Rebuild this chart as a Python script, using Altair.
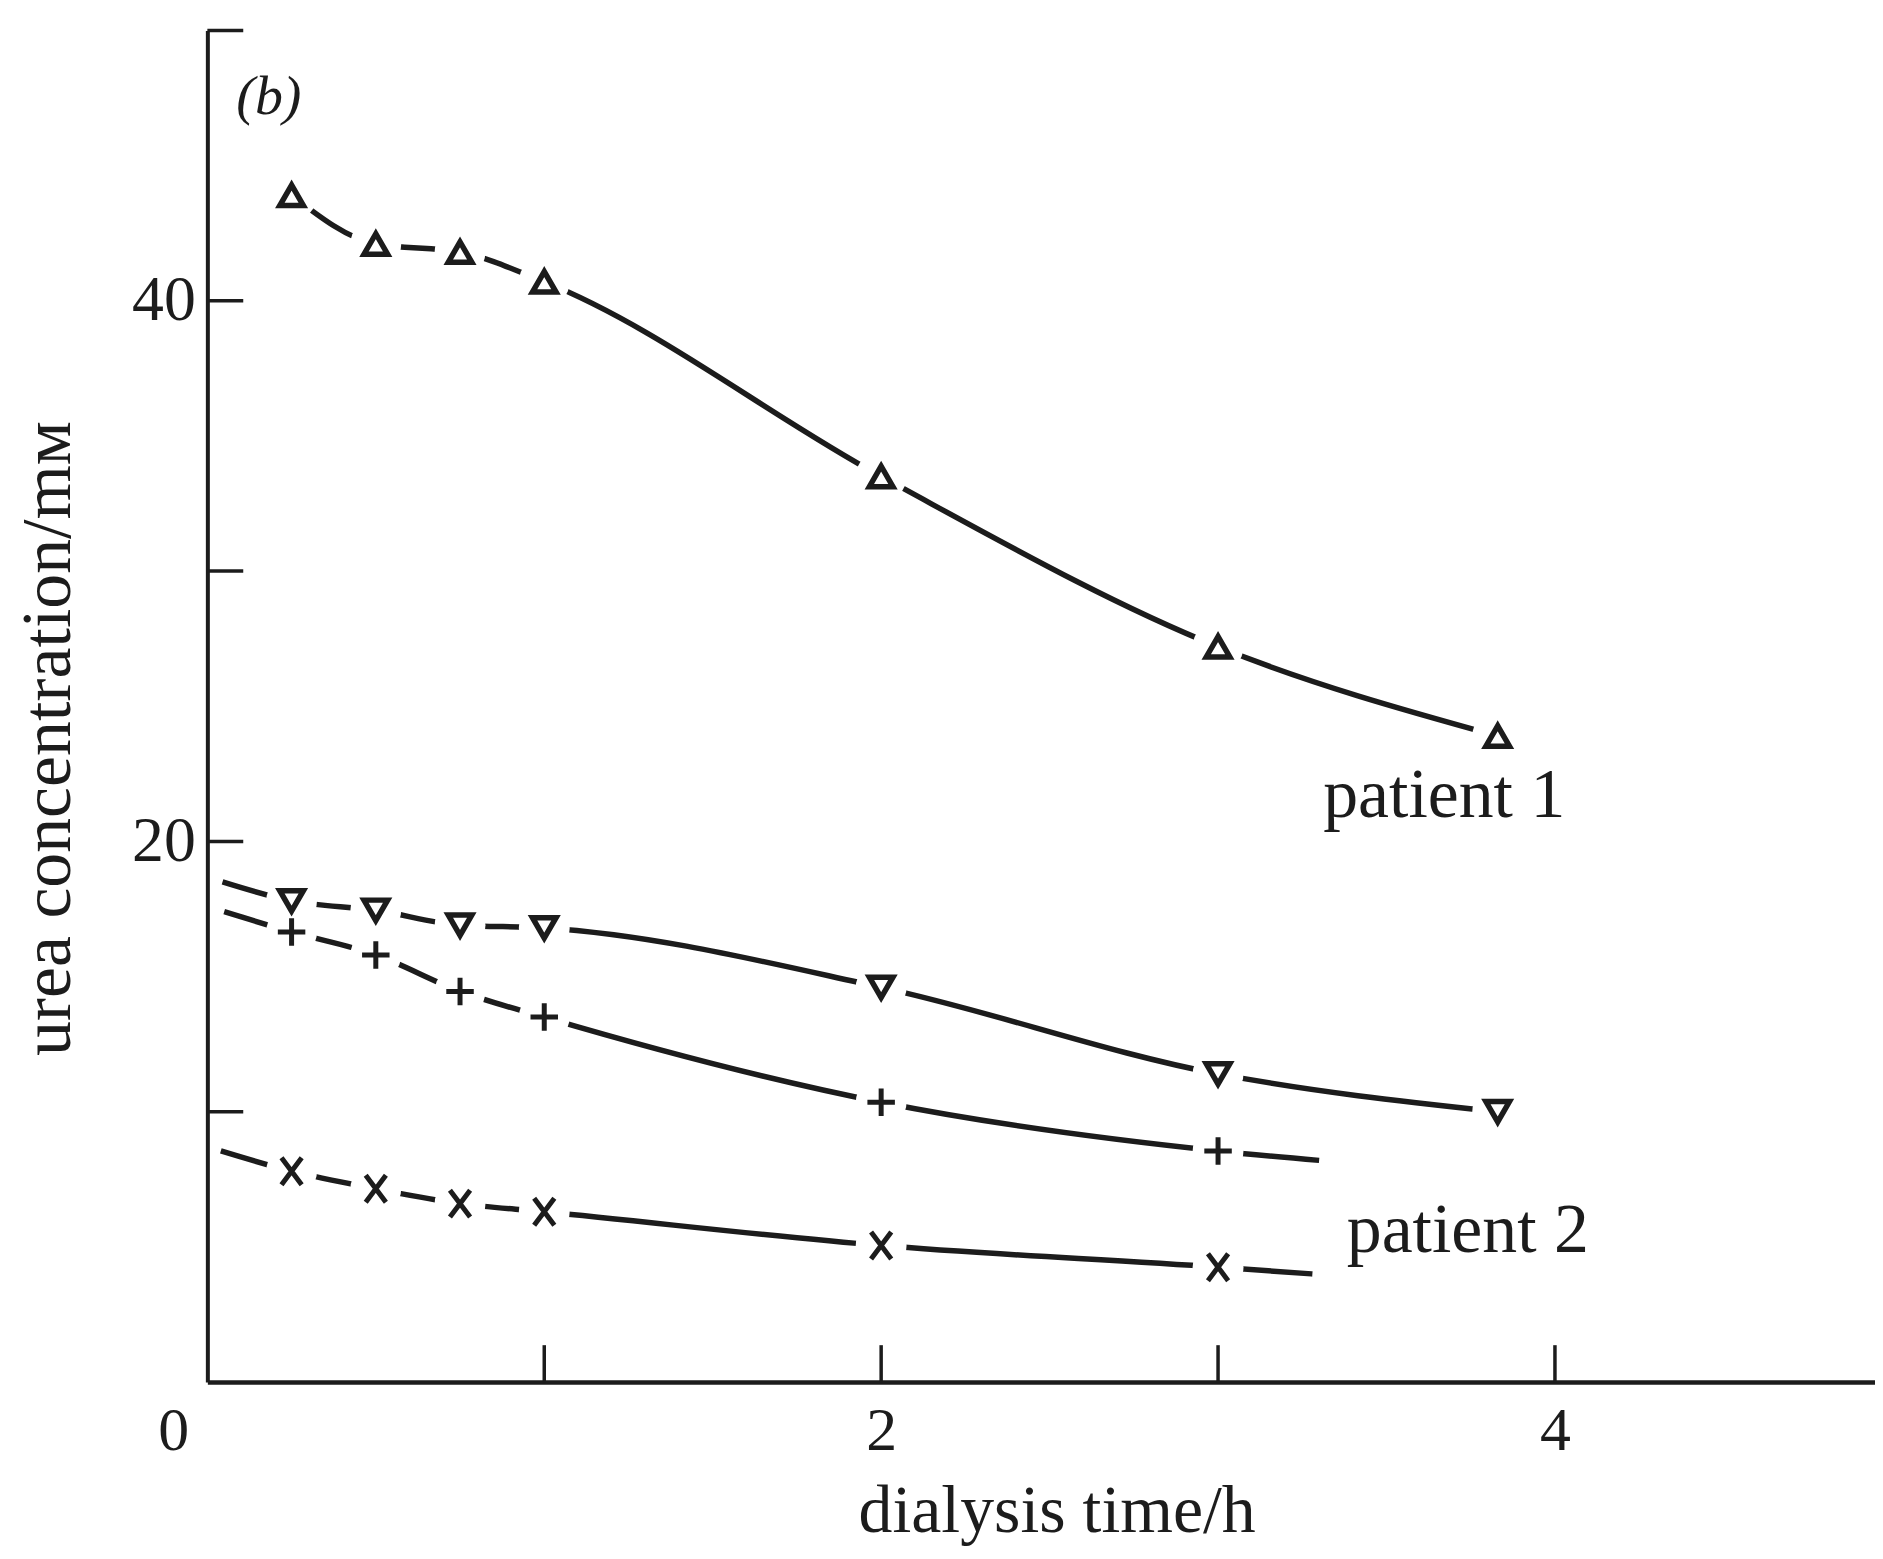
import altair as alt
import pandas as pd

FONT = "Liberation Serif"
INK = "#1c1c1c"

# ---------------- data ----------------
times_p1 = [0.25, 0.5, 0.75, 1.0, 2.0, 3.0, 3.83]
times_p2 = [0.25, 0.5, 0.75, 1.0, 2.0, 3.0]

p1_up = [43.9, 42.1, 41.8, 40.7, 33.5, 27.2, 23.9]      # open triangles (up)
p1_down = [17.8, 17.45, 16.9, 16.8, 14.6, 11.4, 10.0]    # open triangles (down)
p2_plus = [16.65, 15.8, 14.45, 13.5, 10.35, 8.55]        # plus signs
p2_cross = [7.8, 7.15, 6.6, 6.3, 5.05, 4.25]             # crosses

# where the drawn curves begin / end beyond the plotted points
p1_down_start = (0.045, 18.5)
p2_plus_start = (0.05, 17.4)
p2_plus_end = (3.3, 8.2)
p2_cross_start = (0.04, 8.55)
p2_cross_end = (3.28, 4.0)

x_tick_values = [1, 2, 3, 4]
x_label_values = [2, 4]
y_tick_values = [10, 20, 30, 40, 50]
y_label_values = [20, 40]

# ---------------- tables ----------------
pts = []
for name, ts, vs in [("up", times_p1, p1_up), ("down", times_p1, p1_down),
                     ("plus", times_p2, p2_plus), ("cross", times_p2, p2_cross)]:
    for t, v in zip(ts, vs):
        pts.append(dict(series=name, t=t, v=v))
pts = pd.DataFrame(pts)

extra = []
for name, pair in [("down", p1_down_start), ("plus", p2_plus_start), ("plus", p2_plus_end),
                   ("cross", p2_cross_start), ("cross", p2_cross_end)]:
    extra.append(dict(series=name, t=pair[0], v=pair[1]))
curves = pd.concat([pts, pd.DataFrame(extra)], ignore_index=True).sort_values(["series", "t"])

xt = pd.DataFrame({"t": x_tick_values})
yt = pd.DataFrame({"v": y_tick_values})

notes = pd.DataFrame([
    dict(t=3.312, v=20.91, label="patient 1"),
    dict(t=3.382, v=4.82, label="patient 2"),
])
panel = pd.DataFrame([dict(t=0.086, v=46.9, label="(b)")])
origin = pd.DataFrame([dict(t=-0.1, v=0.0, label="0")])

# ---------------- chart ----------------
W, H = 1673, 1356
xs = alt.Scale(domain=[0, 4.95], nice=False, zero=False)
ys = alt.Scale(domain=[0, 50], nice=False, zero=False)

xaxis = alt.Axis(values=x_label_values, format="d", ticks=False, tickSize=0, grid=False,
                 domainColor=INK, domainWidth=4.5,
                 labelFont=FONT, labelFontSize=62, labelColor=INK, labelPadding=68,
                 labelBaseline="alphabetic", labelFlush=False, labelOverlap=False,
                 title="dialysis time/h", titleFont=FONT, titleFontSize=68,
                 titleFontWeight="normal", titleColor=INK, titleX=852, titleY=150,
                 titleBaseline="alphabetic", titleAlign="center", titleAnchor="start")
yaxis = alt.Axis(values=y_label_values, format="d", ticks=False, tickSize=0, grid=False,
                 domainColor=INK, domainWidth=4,
                 labelFont=FONT, labelFontSize=64, labelColor=INK, labelPadding=12,
                 labelBaseline="middle", labelFlush=False, labelOverlap=False,
                 title="urea concentration/mᴍ", titleFont=FONT, titleFontSize=70,
                 titleFontWeight="normal", titleColor=INK, titleX=-138, titleY=710,
                 titleAngle=270, titleBaseline="alphabetic", titleAlign="center",
                 titleAnchor="start")

X = alt.X("t:Q", scale=xs, axis=xaxis)
Y = alt.Y("v:Q", scale=ys, axis=yaxis)

lines = alt.Chart(curves).mark_line(interpolate="monotone", strokeWidth=5.5, color=INK,
                                    strokeCap="butt").encode(x=X, y=Y, detail="series:N")

gaps = alt.Chart(pts).mark_point(shape="circle", filled=True, color="white", opacity=1,
                                 size=2600, strokeWidth=0).encode(x=X, y=Y)

def markers(name, shape, size, sw=5.0):
    return alt.Chart(pts).transform_filter(alt.datum.series == name).mark_point(
        shape=shape, filled=False, color=INK, opacity=1, size=size, strokeWidth=sw,
        strokeCap="butt").encode(x=X, y=Y)

m_up = markers("up", "triangle-up", 560, 5.5)
m_down = markers("down", "triangle-down", 560, 5.5)
m_plus = markers("plus", "M-1,0L1,0M0,-1L0,1", 760, 5)
m_cross = markers("cross", "M-0.75,-1L0.75,1M0.75,-1L-0.75,1", 730, 5)

xticks = alt.Chart(xt).mark_rule(strokeWidth=3.5, color=INK).encode(
    x=X, y=alt.value(H), y2=alt.value(H - 37))
yticks = alt.Chart(yt).mark_rule(strokeWidth=3.5, color=INK).encode(
    y=Y, x=alt.value(0), x2=alt.value(36))

labels = alt.Chart(notes).mark_text(font=FONT, fontSize=70, color=INK, align="left",
                                    baseline="alphabetic").encode(x=X, y=Y, text="label:N")
panel_lbl = alt.Chart(panel).mark_text(font=FONT, fontSize=56, fontStyle="italic", color=INK,
                                       align="left", baseline="alphabetic").encode(
    x=X, y=Y, text="label:N")
origin_lbl = alt.Chart(origin).mark_text(font=FONT, fontSize=62, color=INK, align="center",
                                         baseline="alphabetic", dy=68).encode(
    x=X, y=Y, text="label:N")

chart = alt.layer(lines, gaps, m_up, m_down, m_plus, m_cross, xticks, yticks,
                  labels, panel_lbl, origin_lbl).properties(
    width=W, height=H,
    autosize=alt.AutoSizeParams(type="none"),
    padding={"left": 200, "top": 20, "right": 0, "bottom": 166},
    background="white",
).configure_view(stroke=None)

chart.save("out.html", embed_options={"renderer": "svg", "actions": False})
